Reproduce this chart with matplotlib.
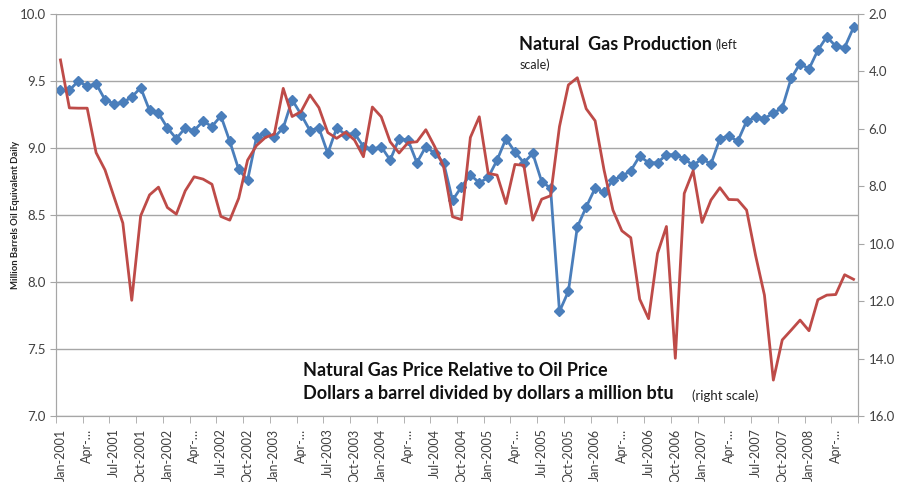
import numpy as np
import matplotlib
matplotlib.use('Agg')
import matplotlib.pyplot as plt

plt.rcParams['font.family'] = ['Lato', 'DejaVu Sans']

# natural gas production, million barrels oil equivalent daily (left scale)
production = [
    9.43, 9.43, 9.50, 9.46, 9.48, 9.36, 9.33, 9.34, 9.38, 9.45,
    9.28, 9.26, 9.15, 9.07, 9.15, 9.13, 9.20, 9.16, 9.24, 9.05,
    8.84, 8.76, 9.08, 9.11, 9.08, 9.15, 9.36, 9.25, 9.13, 9.15,
    8.96, 9.15, 9.10, 9.11, 9.01, 8.99, 9.01, 8.91, 9.07, 9.06,
    8.89, 9.01, 8.96, 8.89, 8.61, 8.71, 8.80, 8.74, 8.78, 8.91,
    9.07, 8.97, 8.89, 8.96, 8.75, 8.70, 7.78, 7.93, 8.41, 8.56,
    8.70, 8.67, 8.76, 8.79, 8.83, 8.94, 8.89, 8.89, 8.95, 8.95,
    8.92, 8.87, 8.92, 8.88, 9.07, 9.09, 9.05, 9.20, 9.23, 9.22,
    9.26, 9.30, 9.52, 9.63, 9.59, 9.73, 9.83, 9.76, 9.75, 9.90,
]

# oil price per barrel / gas price per million btu (right scale, inverted)
price_ratio = [
    3.60, 5.27, 5.28, 5.28, 6.83, 7.43, 8.36, 9.28, 11.97, 9.03,
    8.30, 8.03, 8.74, 8.97, 8.16, 7.67, 7.75, 7.93, 9.05, 9.18,
    8.42, 7.09, 6.58, 6.30, 6.18, 4.59, 5.57, 5.40, 4.82, 5.26,
    6.13, 6.33, 6.12, 6.39, 6.97, 5.24, 5.58, 6.45, 6.84, 6.48,
    6.45, 6.03, 6.62, 7.32, 9.06, 9.16, 6.30, 5.58, 7.55, 7.61,
    8.60, 7.24, 7.27, 9.18, 8.45, 8.33, 5.92, 4.47, 4.22, 5.30,
    5.72, 7.43, 8.83, 9.55, 9.79, 11.93, 12.61, 10.34, 9.40, 13.99,
    8.25, 7.46, 9.26, 8.48, 8.05, 8.46, 8.47, 8.83, 10.40, 11.79,
    14.75, 13.35, 13.01, 12.66, 13.03, 11.95, 11.79, 11.77, 11.08, 11.24,
]

tick_labels = [
    'Jan-2001', 'Apr-…', 'Jul-2001', 'Oct-2001',
    'Jan-2002', 'Apr-…', 'Jul-2002', 'Oct-2002',
    'Jan-2003', 'Apr-…', 'Jul-2003', 'Oct-2003',
    'Jan-2004', 'Apr-…', 'Jul-2004', 'Oct-2004',
    'Jan-2005', 'Apr-…', 'Jul-2005', 'Oct-2005',
    'Jan-2006', 'Apr-…', 'Jul-2006', 'Oct-2006',
    'Jan-2007', 'Apr-…', 'Jul-2007', 'Oct-2007',
    'Jan-2008', 'Apr-…',
]

BLUE = '#4a7ebb'
RED = '#be4b48'
GRID = '#a6a6a6'
TXT = '#404040'

W, H = 899, 482
fig = plt.figure(figsize=(W / 100, H / 100), dpi=100)
ax = fig.add_axes([56 / W, 66 / H, 802 / W, 402 / H])
ax2 = ax.twinx()

x = np.arange(len(production))
ax.plot(x, production, color=BLUE, lw=2, marker='D', ms=5.5, zorder=3)
ax2.plot(x, price_ratio, color=RED, lw=2, zorder=2)

ax.set_xlim(-0.5, len(production) - 0.5)
ax.set_ylim(7.0, 10.0)
ax2.set_ylim(16.0, 2.0)

ax.set_yticks(np.arange(7.0, 10.01, 0.5))
ax.set_yticklabels(['%.1f' % v for v in np.arange(7.0, 10.01, 0.5)])
ax2.set_yticks(np.arange(2.0, 16.01, 2.0))
ax2.set_yticklabels(['%.1f' % v for v in np.arange(2.0, 16.01, 2.0)])

ax.set_xticks(np.arange(0, len(production), 3))
ax.set_xticklabels(tick_labels, rotation=90)
ax.set_xticks(np.arange(-0.5, len(production), 3), minor=True)

ax.yaxis.grid(True, color=GRID, lw=1)
ax.set_axisbelow(True)

for a in (ax, ax2):
    for s in a.spines.values():
        s.set_color(GRID)
    a.spines['top'].set_visible(False)

ax.tick_params(axis='y', length=4, color=GRID, labelcolor=TXT, labelsize=9.5)
ax2.tick_params(axis='y', length=4, color=GRID, labelcolor=TXT, labelsize=9.5)
ax.tick_params(axis='x', which='major', length=0, pad=9, labelcolor=TXT, labelsize=9)
ax.tick_params(axis='x', which='minor', length=5, color=GRID)

fig.text(16 / W, 1 - 215 / H, 'Million Barrels Oil Equivalent Daily', rotation=90,
         fontweight='bold', fontsize=6.8, ha='center', va='center', color='#222222')

fig.text(519 / W, 1 - 44 / H, 'Natural  Gas Production', fontweight='bold',
         fontsize=13, va='center', color='#111111')
fig.text(716 / W, 1 - 45 / H, '(left', fontsize=9, va='center', color='#222222')
fig.text(520 / W, 1 - 65 / H, 'scale)', fontsize=9, va='center', color='#222222')

fig.text(303 / W, 1 - 371 / H, 'Natural Gas Price Relative to Oil Price', fontweight='bold',
         fontsize=13, va='center', color='#111111')
fig.text(303 / W, 1 - 394 / H, 'Dollars a barrel divided by dollars a million btu',
         fontweight='bold', fontsize=13, va='center', color='#111111')
fig.text(692 / W, 1 - 396 / H, '(right scale)', fontsize=9.5, va='center', color='#222222')

fig.savefig('out.png', dpi=100)
